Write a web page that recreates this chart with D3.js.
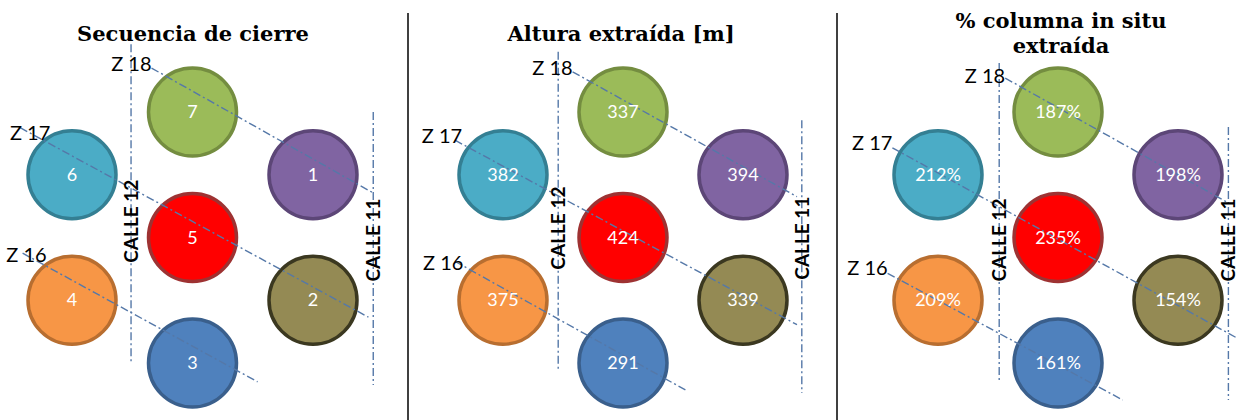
<!DOCTYPE html>
<html>
<head>
<meta charset="utf-8">
<script src="https://cdn.jsdelivr.net/npm/d3@7"></script>
<style>
  html, body { margin: 0; padding: 0; background: #fff; }
  svg { display: block; }
</style>
</head>
<body>
<svg id="chart" width="1239" height="420"></svg>
<script>
// ---------------- DATA ----------------
// One entry per zone cell, ordered by closure sequence 1..7
const secuencia   = [1, 2, 3, 4, 5, 6, 7];
const altura      = [394, 339, 291, 375, 424, 382, 337];       // Altura extraída [m]
const porcentaje  = [198, 154, 161, 209, 235, 212, 187];       // % columna in situ extraída
// Categorical grid position of each cell (column 0..2, half-row 0..4)
const gridCol     = [2, 2, 1, 0, 1, 0, 1];
const gridRow     = [1, 3, 4, 3, 2, 1, 0];
const panelTitles = [["Secuencia de cierre"], ["Altura extraída [m]"], ["% columna in situ", "extraída"]];
const zoneLabels  = ["Z 18", "Z 17", "Z 16"];
const streetLabels = ["CALLE 12", "CALLE 11"];

// ---------------- STYLE / LAYOUT ----------------
const fills   = ["#8064A2", "#948A54", "#4F81BD", "#F79646", "#FF0000", "#4BACC6", "#9BBB59"];
const strokes = ["#5C4677", "#3B3820", "#3A5F8C", "#B86E30", "#9E3232", "#347F93", "#748D40"];

const panels = [
  { x0: 72,  x2: 313, titleX: 193, titleY: [41],
    values: secuencia.map(String),
    streets: [ {c: 0.49, r0: -1.08, r1: 4.00, lr: 1.74}, {c: 2.50, r0: 0.00, r1: 4.35, lr: 2.04} ],
    zones: [ {a: [0.66, -0.70], b: [2.50, 1.29], l: [0.66, -0.66]},
             {a: [-0.43, 0.25], b: [2.46, 3.27], l: [-0.18, 0.44]},
             {a: [-0.41, 2.25], b: [1.54, 4.30], l: [-0.21, 2.39]} ] },
  { x0: 503, x2: 743, titleX: 621, titleY: [41],
    values: altura.map(String),
    streets: [ {c: 0.46, r0: -0.96, r1: 4.14, lr: 1.85}, {c: 2.49, r0: 0.13, r1: 4.48, lr: 2.01} ],
    zones: [ {a: [0.58, -0.64], b: [2.45, 1.35], l: [0.58, -0.59]},
             {a: [-0.40, 0.45], b: [2.45, 3.39], l: [-0.34, 0.49]},
             {a: [-0.40, 2.38], b: [1.52, 4.43], l: [-0.33, 2.52]} ] },
  { x0: 938, x2: 1178, titleX: 1061, titleY: [28, 53],
    values: porcentaje.map(v => v + "%"),
    streets: [ {c: 0.51, r0: -0.78, r1: 4.30, lr: 2.04}, {c: 2.42, r0: 0.24, r1: 4.59, lr: 2.04} ],
    zones: [ {a: [0.56, -0.54], b: [2.42, 1.45], l: [0.56, -0.46]},
             {a: [-0.38, 0.57], b: [2.48, 3.59], l: [-0.38, 0.61]},
             {a: [-0.42, 2.57], b: [1.54, 4.59], l: [-0.42, 2.60]} ] }
];
const separatorsX = [408, 837];

const svg = d3.select("#chart");

// separators
svg.selectAll("line.sep").data(separatorsX).join("line")
  .attr("class", "sep")
  .attr("x1", d => d).attr("x2", d => d)
  .attr("y1", 13).attr("y2", 420)
  .attr("stroke", "#000").attr("stroke-width", 1.5);

panels.forEach((p, pi) => {
  const x = d3.scaleLinear().domain([0, 2]).range([p.x0, p.x2]);
  const y = d3.scaleLinear().domain([0, 4]).range([112, 363]);
  const g = svg.append("g");

  // title
  const t = g.append("text")
    .attr("x", p.titleX)
    .attr("text-anchor", "middle")
    .attr("font-family", "'DejaVu Serif', serif")
    .attr("font-weight", "bold")
    .attr("font-size", 21)
    .attr("fill", "#000");
  panelTitles[pi].forEach((line, li) => {
    t.append("tspan").attr("x", p.titleX).attr("y", p.titleY[li]).text(line);
  });

  // circles
  const cells = secuencia.map((s, i) => ({ i, c: gridCol[i], r: gridRow[i], v: p.values[i] }));
  g.selectAll("circle").data(cells).join("circle")
    .attr("cx", d => x(d.c))
    .attr("cy", d => y(d.r))
    .attr("r", 44)
    .attr("fill", d => fills[d.i])
    .attr("stroke", d => strokes[d.i])
    .attr("stroke-width", 3.5);

  // street guide lines
  g.selectAll("line.street").data(p.streets).join("line")
    .attr("class", "street")
    .attr("x1", d => x(d.c)).attr("x2", d => x(d.c))
    .attr("y1", d => y(d.r0)).attr("y2", d => y(d.r1))
    .attr("stroke", "#5578A8").attr("stroke-width", 1.4)
    .attr("stroke-dasharray", "8,3,2,3");

  // zone guide lines
  g.selectAll("line.zone").data(p.zones).join("line")
    .attr("class", "zone")
    .attr("x1", d => x(d.a[0])).attr("y1", d => y(d.a[1]))
    .attr("x2", d => x(d.b[0])).attr("y2", d => y(d.b[1]))
    .attr("stroke", "#5578A8").attr("stroke-width", 1.4)
    .attr("stroke-dasharray", "8,3,2,3");

  // circle values
  g.selectAll("text.val").data(cells).join("text")
    .attr("class", "val")
    .attr("x", d => x(d.c))
    .attr("y", d => y(d.r) + 6)
    .attr("text-anchor", "middle")
    .attr("font-family", "Lato, 'Open Sans', sans-serif")
    .attr("font-size", 18)
    .attr("fill", "#fff")
    .text(d => d.v);

  // zone labels
  g.selectAll("text.zl").data(p.zones).join("text")
    .attr("class", "zl")
    .attr("x", d => x(d.l[0]))
    .attr("y", d => y(d.l[1]))
    .attr("text-anchor", "end")
    .attr("font-family", "Lato, 'Open Sans', sans-serif")
    .attr("font-size", 20)
    .attr("fill", "#000")
    .text((d, i) => zoneLabels[i]);

  // street labels
  g.selectAll("text.sl").data(p.streets).join("text")
    .attr("class", "sl")
    .attr("transform", d => `translate(${x(d.c)},${y(d.lr)}) rotate(-90)`)
    .attr("text-anchor", "middle")
    .attr("dy", "0.36em")
    .attr("font-family", "Lato, 'Open Sans', sans-serif")
    .attr("font-weight", "bold")
    .attr("font-size", 19)
    .attr("fill", "#000")
    .text((d, i) => streetLabels[i]);
});
</script>
</body>
</html>
